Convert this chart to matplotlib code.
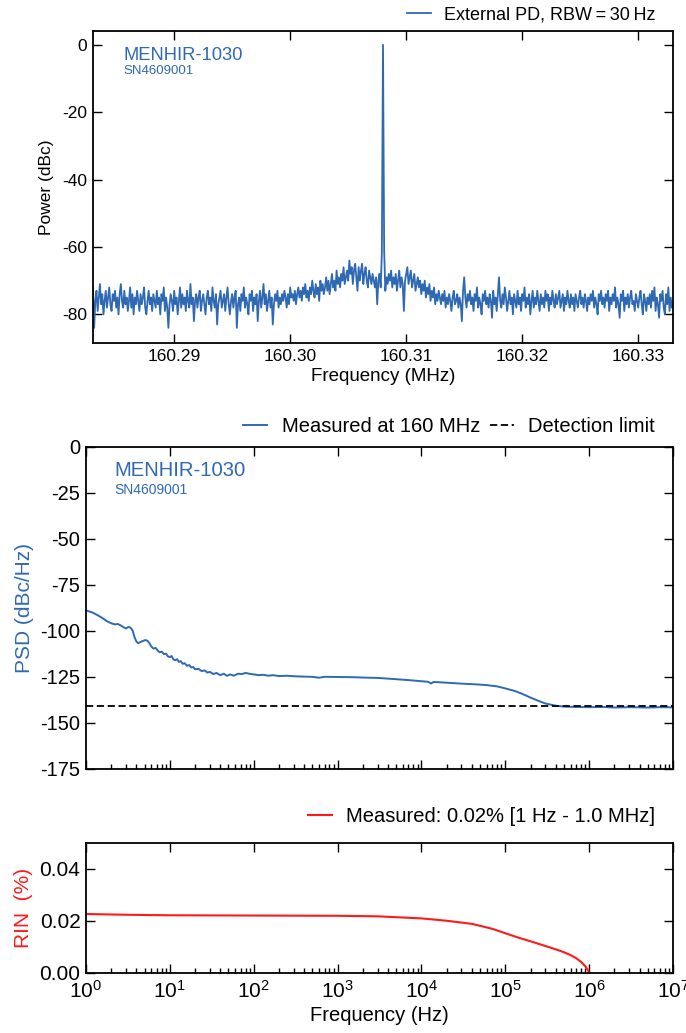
import numpy as np
import matplotlib
matplotlib.use("Agg")
import matplotlib.pyplot as plt
from matplotlib.ticker import LogLocator, NullFormatter, FixedLocator

plt.rcParams['font.family'] = ['Liberation Sans', 'DejaVu Sans']
plt.rcParams['axes.unicode_minus'] = False
plt.rcParams['mathtext.fontset'] = 'custom'
plt.rcParams['mathtext.rm'] = 'Liberation Sans'
plt.rcParams['mathtext.it'] = 'Liberation Sans:italic'

BLUE = '#2f69b3'
RED = '#ff1a1a'

# ---- Beat-note spectrum (external photodiode) ----
spec_start_mhz = 160.283
spec_step_mhz = 0.0001
spec_dbc = [
    -72, -84, -76, -73, -79, -75, -71, -77, -74, -80, -76, -73, -78, -75, -72, -77, -79, -74, -76, -73,
    -78, -75, -80, -74, -71, -76, -78, -73, -77, -75, -79, -76, -72, -78, -74, -80, -75, -77, -73, -76,
    -79, -74, -77, -75, -72, -78, -80, -76, -73, -77, -75, -79, -74, -76, -78, -73, -77, -75, -80, -74,
    -76, -72, -79, -75, -78, -84, -77, -74, -76, -79, -73, -77, -75, -80, -76, -72, -78, -74, -77, -75,
    -79, -73, -76, -78, -71, -77, -75, -82, -76, -74, -78, -75, -73, -79, -76, -74, -77, -80, -75, -73,
    -77, -75, -79, -72, -76, -78, -74, -83, -77, -75, -73, -78, -76, -74, -79, -75, -72, -77, -80, -76,
    -74, -78, -75, -73, -84, -77, -75, -79, -74, -76, -72, -78, -75, -77, -80, -74, -76, -73, -79, -75,
    -77, -74, -82, -76, -73, -78, -75, -71, -77, -74, -79, -76, -73, -78, -75, -83, -77, -74, -76, -73,
    -78, -75, -77, -74, -76, -73, -75, -78, -74, -77, -72, -75, -74, -76, -73, -77, -74, -72, -75, -73,
    -76, -72, -74, -71, -75, -73, -76, -72, -74, -70, -73, -75, -71, -74, -72, -76, -70, -73, -71, -74,
    -72, -69, -73, -70, -74, -71, -68, -72, -70, -73, -67, -71, -69, -72, -68, -70, -66, -71, -69, -67,
    -70, -64, -68, -66, -71, -67, -65, -69, -73, -66, -70, -67, -65, -71, -68, -66, -70, -72, -67, -69,
    -71, -68, -70, -72, -69, -77, -70, -68, -72, -62, 0, -61, -73, -69, -71, -68, -70, -67, -72, -69,
    -71, -68, -73, -70, -67, -72, -69, -71, -79, -70, -68, -66, -71, -69, -67, -72, -70, -68, -73, -71,
    -69, -72, -70, -74, -71, -73, -70, -75, -72, -74, -71, -76, -73, -75, -72, -77, -74, -76, -73, -75,
    -77, -74, -76, -73, -78, -75, -77, -74, -76, -79, -75, -73, -77, -76, -74, -78, -75, -77, -82, -73,
    -69, -75, -78, -74, -76, -73, -77, -75, -79, -74, -76, -72, -78, -75, -77, -80, -74, -76, -73, -77,
    -75, -78, -74, -76, -81, -73, -77, -75, -79, -74, -69, -76, -78, -74, -77, -72, -75, -79, -76, -73,
    -77, -75, -80, -74, -76, -78, -73, -77, -75, -79, -74, -76, -72, -78, -75, -77, -74, -80, -76, -73,
    -78, -75, -77, -73, -76, -79, -74, -77, -75, -78, -73, -76, -74, -79, -75, -77, -73, -76, -78, -74,
    -77, -75, -73, -78, -76, -74, -79, -75, -77, -73, -76, -78, -74, -77, -75, -79, -74, -76, -78, -75,
    -73, -77, -75, -78, -74, -76, -79, -75, -77, -74, -76, -73, -78, -75, -77, -80, -74, -76, -73, -77,
    -75, -78, -74, -76, -73, -79, -75, -77, -74, -76, -72, -78, -75, -77, -81, -74, -76, -73, -79, -75,
    -77, -74, -78, -75, -73, -77, -76, -79, -74, -76, -78, -75, -73, -77, -80, -74, -76, -79, -75, -77,
    -74, -78, -73, -76, -72, -79, -75, -77, -81, -74, -76, -73, -78, -80, -74, -77, -72, -79, -75, -78,
    -77,
]
spec_freq_mhz = spec_start_mhz + spec_step_mhz * np.arange(len(spec_dbc))

# ---- Intensity noise PSD measured at 160 MHz ----
psd_freq_hz = [
    1.0, 1.2, 1.4, 1.6, 1.8, 2.0, 2.2, 2.4, 2.6, 2.8,
    3.0, 3.2, 3.4, 3.6, 3.8, 4.0, 4.2, 4.5, 4.8, 5.1,
    5.4, 5.7, 6.0, 6.4, 6.8, 7.2, 7.6, 8.0, 8.5, 9.0,
    9.5, 10, 10.5, 11, 11.6, 12.2, 12.8, 13.5, 14.2, 15,
    16, 17, 18, 19, 20, 22, 24, 26, 28, 30,
    33, 36, 40, 44, 48, 52, 58, 65, 72, 80,
    90, 100, 115, 130, 150, 170, 200, 250, 300, 400,
    500, 600, 700, 1000, 1500, 2000, 3000, 5000, 8000, 10000,
    12000, 13000, 14000, 20000, 30000, 45000, 60000, 80000, 100000, 130000,
    160000, 200000, 250000, 300000, 400000, 500000, 700000, 1.0e6, 1.5e6, 2.0e6,
    3.0e6, 5.0e6, 7.0e6, 1.0e7,
]
psd_dbc_hz = [
    -88.8, -90.0, -91.6, -93.2, -94.8, -95.8, -96.4, -96.2, -97.0, -97.9,
    -98.6, -97.8, -98.2, -99.8, -103.5, -105.8, -106.6, -105.9, -105.4, -104.9,
    -105.3, -106.6, -108.4, -109.6, -109.2, -110.8, -111.6, -111.2, -112.6, -112.3,
    -113.8, -114.2, -113.6, -115.4, -115.9, -115.3, -116.8, -116.4, -117.8, -117.5,
    -118.9, -118.5, -119.8, -119.6, -120.8, -120.6, -121.8, -121.4, -122.6, -122.2,
    -123.4, -122.8, -124.0, -123.2, -124.4, -123.6, -124.3, -123.2, -123.4, -122.8,
    -123.3, -123.6, -124.0, -123.8, -124.3, -124.0, -124.5, -124.3, -124.6, -124.8,
    -124.9, -125.4, -124.9, -125.0, -125.1, -125.3, -125.5, -126.2, -126.9, -127.3,
    -127.6, -128.5, -127.7, -128.1, -128.6, -129.0, -129.4, -130.1, -131.2, -132.6,
    -134.2, -136.2, -138.0, -139.4, -140.6, -141.1, -141.3, -141.4, -141.3, -141.6,
    -141.4, -141.6, -141.4, -141.5,
]
detection_limit_dbc_hz = -141.0

# ---- Integrated RIN from f up to 1 MHz ----
rin_freq_hz = [
    1, 2, 5, 10, 100, 1000, 3000, 1e4, 2e4, 4e4,
    7e4, 1e5, 1.5e5, 2e5, 3e5, 4e5, 5e5, 6e5, 7e5, 8e5,
    9e5, 9.5e5, 9.8e5, 1e6,
]
rin_percent = [
    0.0227, 0.0225, 0.0223, 0.0222, 0.0221, 0.0220, 0.0218, 0.0210, 0.0201, 0.0189,
    0.0170, 0.0153, 0.0134, 0.0122, 0.0104, 0.0091, 0.0080, 0.0069, 0.0057, 0.0043,
    0.0026, 0.0015, 0.0007, 0.0,
]

decades = [1e0, 1e1, 1e2, 1e3, 1e4, 1e5, 1e6, 1e7]

W, H = 686, 1033
fig = plt.figure(figsize=(W / 100, H / 100), dpi=100)


def px_axes(left, top, right, bottom):
    return fig.add_axes([left / W, 1 - bottom / H, (right - left) / W, (bottom - top) / H])


def style_axes(ax, size):
    ax.tick_params(which='both', direction='in', top=True, right=True,
                   labelsize=size, width=1.0, pad=4)
    ax.tick_params(which='major', length=6.5)
    ax.tick_params(which='minor', length=3.5)
    for s in ax.spines.values():
        s.set_linewidth(1.3)


# Top: spectrum
ax1 = px_axes(93, 31, 673, 343)
ax1.plot(spec_freq_mhz, spec_dbc, color=BLUE, lw=1.3, label='External PD, RBW\u2009=\u200930\u2009Hz')
ax1.set_xlim(160.283, 160.333)
ax1.set_ylim(-88.5, 4.1)
ax1.set_xticks([160.29, 160.30, 160.31, 160.32, 160.33])
ax1.set_xticklabels(['160.29', '160.30', '160.31', '160.32', '160.33'])
ax1.set_yticks([0, -20, -40, -60, -80])
style_axes(ax1, 12.5)
ax1.set_xlabel('Frequency (MHz)', fontsize=13.5, labelpad=3)
ax1.set_ylabel('Power (dBc)', fontsize=12.5, labelpad=6)
ax1.text(0.053, 0.922, 'MENHIR-1030', transform=ax1.transAxes, color=BLUE,
         fontsize=13.2, va='center', ha='left')
ax1.text(0.053, 0.872, 'SN4609001', transform=ax1.transAxes, color=BLUE,
         fontsize=9.5, va='center', ha='left')
ax1.legend(loc='center right', bbox_to_anchor=(655 / W, 1 - 15 / H),
           bbox_transform=fig.transFigure, frameon=False, fontsize=13,
           handlelength=1.3, handletextpad=0.7, borderpad=0, borderaxespad=0)

# Middle: PSD
ax2 = px_axes(86, 447, 673, 769)
ax2.semilogx(psd_freq_hz, psd_dbc_hz, color=BLUE, lw=1.4, label='Measured at 160 MHz')
ax2.axhline(detection_limit_dbc_hz, color='black', lw=1.3, ls=(0, (4, 2)), label='Detection limit')
ax2.set_xlim(1, 1e7)
ax2.set_ylim(-175, 0)
ax2.set_yticks([0, -25, -50, -75, -100, -125, -150, -175])
ax2.xaxis.set_major_locator(FixedLocator(decades))
ax2.xaxis.set_minor_locator(LogLocator(base=10, subs=np.arange(2, 10), numticks=20))
ax2.xaxis.set_major_formatter(NullFormatter())
ax2.xaxis.set_minor_formatter(NullFormatter())
style_axes(ax2, 14.5)
ax2.tick_params(which='minor', top=False)
ax2.set_ylabel('PSD (dBc/Hz)', fontsize=15, color=BLUE, labelpad=5)
ax2.text(0.049, 0.928, 'MENHIR-1030', transform=ax2.transAxes, color=BLUE,
         fontsize=14.6, va='center', ha='left')
ax2.text(0.049, 0.868, 'SN4609001', transform=ax2.transAxes, color=BLUE,
         fontsize=10, va='center', ha='left')
ax2.legend(loc='center right', bbox_to_anchor=(655 / W, 1 - 427 / H),
           bbox_transform=fig.transFigure, frameon=False, fontsize=14.5, ncol=2,
           handlelength=1.2, handletextpad=0.7, columnspacing=0.5,
           borderpad=0, borderaxespad=0)

# Bottom: integrated RIN
ax3 = px_axes(86, 843, 673, 973)
ax3.semilogx(rin_freq_hz, rin_percent, color=RED, lw=1.5, label='Measured: 0.02% [1 Hz - 1.0 MHz]')
ax3.set_xlim(1, 1e7)
ax3.set_ylim(0, 0.05)
ax3.set_yticks([0.0, 0.02, 0.04])
ax3.set_yticklabels(['0.00', '0.02', '0.04'])
ax3.xaxis.set_major_locator(FixedLocator(decades))
ax3.set_xticklabels([rf'$10^{{{int(np.log10(d))}}}$' for d in decades])
ax3.xaxis.set_minor_locator(LogLocator(base=10, subs=np.arange(2, 10), numticks=20))
ax3.xaxis.set_minor_formatter(NullFormatter())
style_axes(ax3, 15)
ax3.tick_params(which='minor', top=False)
ax3.tick_params(axis='x', which='major', pad=5)
ax3.set_xlabel('Frequency (Hz)', fontsize=14.5, labelpad=3)
ax3.set_ylabel('RIN  (%)', fontsize=15, color=RED, labelpad=5)
ax3.legend(loc='center right', bbox_to_anchor=(655 / W, 1 - 817 / H),
           bbox_transform=fig.transFigure, frameon=False, fontsize=14.5,
           handlelength=1.2, handletextpad=0.7, borderpad=0, borderaxespad=0)

fig.savefig('out.png', dpi=100)
